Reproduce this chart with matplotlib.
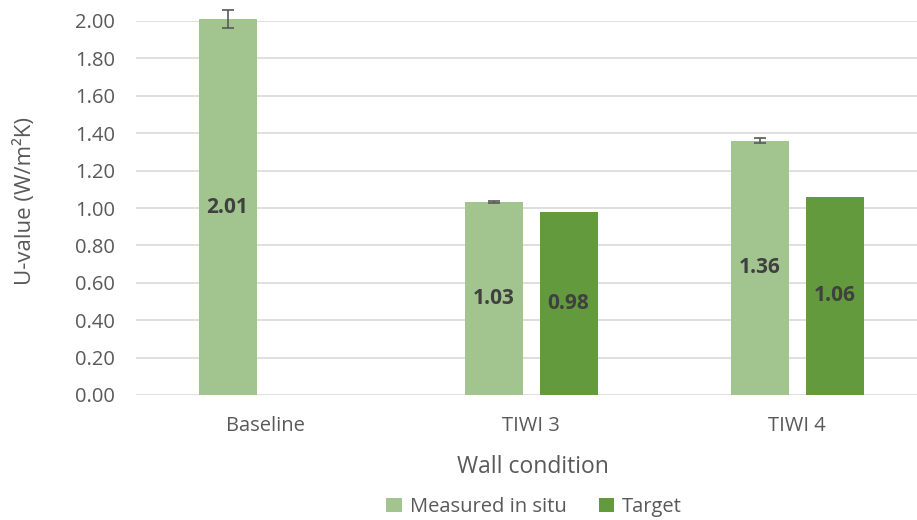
import numpy as np
import matplotlib
matplotlib.use("Agg")
import matplotlib.pyplot as plt

categories = ["Baseline", "TIWI 3", "TIWI 4"]
measured = [2.01, 1.03, 1.36]
measured_err = [0.05, 0.005, 0.015]
target = [np.nan, 0.98, 1.06]

plt.rcParams["font.family"] = ["Open Sans", "DejaVu Sans"]

light_green = "#A2C48F"
dark_green = "#629A3D"
text_grey = "#595959"

fig = plt.figure(figsize=(9.17, 5.2), dpi=100)
ax = fig.add_axes([136 / 917, 125 / 520, (917 - 136) / 917, 374 / 520])

x = np.arange(len(categories))
offset = 0.141
width = 0.218

ax.bar(x - offset, measured, width, color=light_green, label="Measured in situ",
       zorder=3, clip_on=False)
ax.bar(x + offset, target, width, color=dark_green, label="Target", zorder=3)
ax.errorbar(x - offset, measured, yerr=measured_err, fmt="none", ecolor="#595959",
            elinewidth=1.2, capsize=4.5, capthick=1.2, zorder=4, clip_on=False)

# value labels in the middle of each bar
for xi, v in zip(x - offset, measured):
    ax.text(xi, v / 2, f"{v:.2f}", ha="center", va="center", fontsize=15,
            fontweight="bold", color="#404040", zorder=5)
for xi, v in zip(x + offset, target):
    if not np.isnan(v):
        ax.text(xi, v / 2, f"{v:.2f}", ha="center", va="center", fontsize=15,
                fontweight="bold", color="#404040", zorder=5)

ax.set_ylim(0, 2.0)
ax.set_xlim(-0.485, 2.451)
ax.set_yticks(np.arange(0, 2.01, 0.2))
ax.set_yticklabels([f"{t:.2f}" for t in np.arange(0, 2.01, 0.2)])
ax.set_xticks(x)
ax.set_xticklabels(categories)
ax.tick_params(axis="both", length=0, labelsize=14.5, colors=text_grey)
ax.tick_params(axis="y", pad=15)
ax.tick_params(axis="x", pad=15)

ax.grid(axis="y", color="#D9D9D9", linewidth=1.2, zorder=0)
for side in ["top", "right", "left", "bottom"]:
    ax.spines[side].set_visible(False)

ax.set_ylabel("U-value (W/m²K)", fontsize=16, color=text_grey)
ax.yaxis.set_label_coords(-0.142, 0.52)
ax.yaxis.label.set_va("center")
ax.set_xlabel("Wall condition", fontsize=16.5, color=text_grey)
ax.xaxis.set_label_coords(0.508, -0.1925)
ax.xaxis.label.set_va("center")

fig.legend(loc="center", bbox_to_anchor=(534 / 917, 1 - 507 / 520), ncol=2,
           frameon=False, fontsize=14.5, labelcolor=text_grey, handlelength=0.75,
           handleheight=0.75, columnspacing=1.6, handletextpad=0.4)

fig.savefig("out.png", dpi=100)
